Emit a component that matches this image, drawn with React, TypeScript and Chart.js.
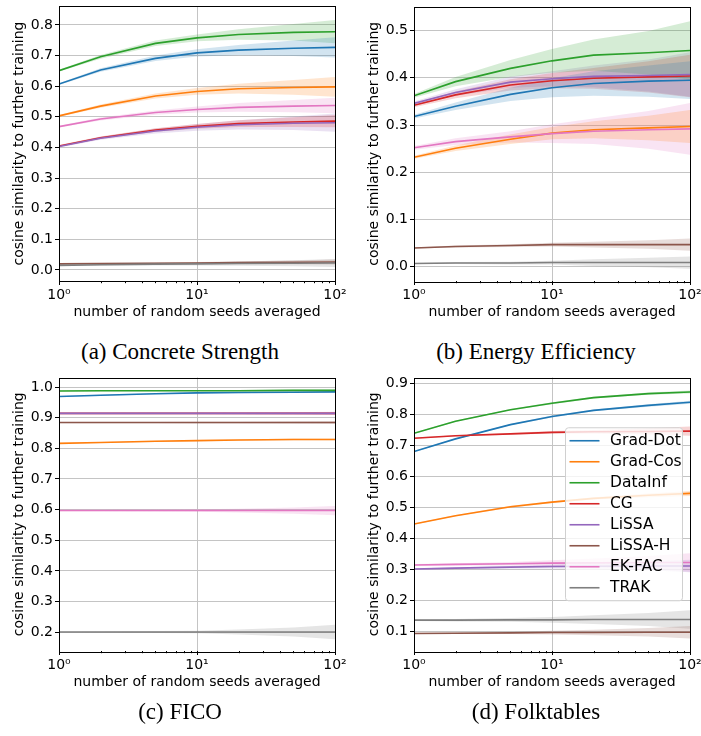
import React, { useEffect, useRef } from "react";
import { Chart, registerables } from "chart.js";
Chart.register(...registerables);

// ---------- data ----------
const seeds = [1, 2, 5, 10, 20, 50, 100];
const methods = ["Grad-Dot", "Grad-Cos", "DataInf", "CG", "LiSSA", "LiSSA-H", "EK-FAC", "TRAK"];
const colors = ["#1f77b4", "#ff7f0e", "#2ca02c", "#d62728", "#9467bd", "#8c564b", "#e377c2", "#7f7f7f"];
const xTickValues = [1, 2, 3, 4, 5, 6, 7, 8, 9, 10, 20, 30, 40, 50, 60, 70, 80, 90, 100];
const xTickLabels: Record<number, string> = { 1: "10⁰", 10: "10¹", 100: "10²" };
const xTitle = "number of random seeds averaged";
const yTitle = "cosine similarity to further training";

// (a) Concrete Strength
const concreteMean = [
  [0.607, 0.653, 0.691, 0.709, 0.718, 0.724, 0.727],
  [0.503, 0.535, 0.568, 0.583, 0.592, 0.596, 0.598],
  [0.651, 0.696, 0.740, 0.758, 0.769, 0.776, 0.778],
  [0.405, 0.432, 0.457, 0.469, 0.478, 0.483, 0.486],
  [0.403, 0.430, 0.454, 0.466, 0.474, 0.479, 0.481],
  [0.020, 0.021, 0.022, 0.023, 0.024, 0.025, 0.026],
  [0.468, 0.493, 0.514, 0.524, 0.531, 0.535, 0.537],
  [0.015, 0.017, 0.019, 0.020, 0.021, 0.022, 0.023],
];
const concreteStd = [
  [0.003, 0.006, 0.009, 0.012, 0.017, 0.025, 0.033],
  [0.003, 0.005, 0.008, 0.011, 0.016, 0.024, 0.032],
  [0.003, 0.006, 0.009, 0.011, 0.017, 0.027, 0.038],
  [0.003, 0.004, 0.006, 0.008, 0.011, 0.016, 0.020],
  [0.003, 0.005, 0.008, 0.011, 0.015, 0.022, 0.030],
  [0.002, 0.002, 0.003, 0.003, 0.004, 0.006, 0.008],
  [0.003, 0.005, 0.007, 0.010, 0.014, 0.020, 0.025],
  [0.002, 0.003, 0.004, 0.005, 0.007, 0.010, 0.013],
];
const concreteTicks = [0.0, 0.1, 0.2, 0.3, 0.4, 0.5, 0.6, 0.7, 0.8];

// (b) Energy Efficiency
const energyMean = [
  [0.318, 0.340, 0.365, 0.379, 0.388, 0.393, 0.395],
  [0.232, 0.251, 0.270, 0.283, 0.290, 0.294, 0.297],
  [0.362, 0.392, 0.420, 0.436, 0.448, 0.453, 0.458],
  [0.342, 0.364, 0.385, 0.394, 0.399, 0.402, 0.404],
  [0.346, 0.369, 0.391, 0.398, 0.403, 0.405, 0.407],
  [0.040, 0.043, 0.045, 0.047, 0.047, 0.047, 0.047],
  [0.252, 0.265, 0.275, 0.282, 0.287, 0.290, 0.292],
  [0.007, 0.008, 0.008, 0.009, 0.009, 0.009, 0.009],
];
const energyStd = [
  [0.004, 0.008, 0.014, 0.020, 0.026, 0.033, 0.040],
  [0.003, 0.006, 0.010, 0.013, 0.018, 0.026, 0.035],
  [0.004, 0.010, 0.018, 0.025, 0.033, 0.046, 0.062],
  [0.004, 0.007, 0.012, 0.016, 0.022, 0.033, 0.045],
  [0.004, 0.007, 0.012, 0.016, 0.023, 0.034, 0.047],
  [0.001, 0.002, 0.003, 0.004, 0.006, 0.009, 0.013],
  [0.004, 0.007, 0.012, 0.020, 0.027, 0.040, 0.055],
  [0.001, 0.002, 0.003, 0.004, 0.007, 0.010, 0.013],
];
const energyTicks = [0.0, 0.1, 0.2, 0.3, 0.4, 0.5];

// (c) FICO
const ficoMean = [
  [0.969, 0.973, 0.978, 0.981, 0.982, 0.983, 0.984],
  [0.816, 0.819, 0.823, 0.825, 0.827, 0.829, 0.829],
  [0.987, 0.988, 0.988, 0.988, 0.988, 0.989, 0.989],
  [0.914, 0.914, 0.914, 0.914, 0.914, 0.914, 0.914],
  [0.914, 0.914, 0.914, 0.914, 0.914, 0.914, 0.914],
  [0.884, 0.884, 0.884, 0.884, 0.884, 0.884, 0.884],
  [0.597, 0.597, 0.597, 0.597, 0.597, 0.597, 0.597],
  [0.201, 0.201, 0.201, 0.201, 0.201, 0.201, 0.201],
];
const ficoStd = [
  [0.002, 0.002, 0.002, 0.002, 0.002, 0.002, 0.002],
  [0.002, 0.002, 0.002, 0.002, 0.002, 0.003, 0.003],
  [0.002, 0.002, 0.002, 0.002, 0.002, 0.003, 0.003],
  [0.001, 0.001, 0.002, 0.002, 0.002, 0.003, 0.004],
  [0.001, 0.001, 0.002, 0.002, 0.003, 0.004, 0.005],
  [0.002, 0.002, 0.002, 0.003, 0.003, 0.004, 0.005],
  [0.002, 0.002, 0.003, 0.004, 0.006, 0.010, 0.015],
  [0.001, 0.002, 0.003, 0.004, 0.008, 0.015, 0.024],
];
const ficoTicks = [0.2, 0.3, 0.4, 0.5, 0.6, 0.7, 0.8, 0.9, 1.0];

// (d) Folktables
const folkMean = [
  [0.681, 0.722, 0.768, 0.794, 0.814, 0.830, 0.840],
  [0.447, 0.474, 0.503, 0.518, 0.530, 0.540, 0.546],
  [0.740, 0.779, 0.816, 0.837, 0.855, 0.868, 0.873],
  [0.724, 0.732, 0.738, 0.743, 0.745, 0.746, 0.747],
  [0.302, 0.305, 0.308, 0.310, 0.311, 0.312, 0.312],
  [0.094, 0.095, 0.096, 0.097, 0.097, 0.098, 0.098],
  [0.315, 0.317, 0.319, 0.321, 0.322, 0.323, 0.323],
  [0.137, 0.137, 0.138, 0.138, 0.139, 0.139, 0.139],
];
const folkStd = [
  [0.002, 0.002, 0.002, 0.003, 0.003, 0.004, 0.005],
  [0.002, 0.002, 0.003, 0.003, 0.004, 0.006, 0.008],
  [0.002, 0.002, 0.002, 0.003, 0.003, 0.004, 0.005],
  [0.002, 0.002, 0.003, 0.004, 0.006, 0.010, 0.015],
  [0.002, 0.003, 0.004, 0.006, 0.009, 0.014, 0.020],
  [0.002, 0.003, 0.004, 0.006, 0.009, 0.014, 0.020],
  [0.003, 0.004, 0.006, 0.009, 0.014, 0.021, 0.030],
  [0.003, 0.004, 0.006, 0.009, 0.014, 0.021, 0.030],
];
const folkTicks = [0.1, 0.2, 0.3, 0.4, 0.5, 0.6, 0.7, 0.8, 0.9];

// ---------- helpers ----------
const FONT = "'DejaVu Sans', sans-serif";
const GRID = "#c4c4c4";

function rgba(hex: string, a: number) {
  const n = parseInt(hex.slice(1), 16);
  return `rgba(${(n >> 16) & 255},${(n >> 8) & 255},${n & 255},${a})`;
}

type PanelProps = {
  left: number;
  top: number;
  width: number;
  height: number;
  padTop: number;
  padRight: number;
  mean: number[][];
  std: number[][];
  yTicks: number[];
  yMin: number;
  yMax: number;
  legend?: boolean;
};

function Panel(p: PanelProps) {
  const ref = useRef<HTMLCanvasElement>(null);
  useEffect(() => {
    const datasets: any[] = [];
    methods.forEach((m, i) => {
      const lowIdx = datasets.length;
      datasets.push({
        label: m + " lower",
        data: seeds.map((s, j) => ({ x: s, y: p.mean[i][j] - p.std[i][j] })),
        borderWidth: 0,
        borderColor: "rgba(0,0,0,0)",
        pointRadius: 0,
        fill: false,
        order: 20,
      });
      datasets.push({
        label: m + " upper",
        data: seeds.map((s, j) => ({ x: s, y: p.mean[i][j] + p.std[i][j] })),
        borderWidth: 0,
        borderColor: "rgba(0,0,0,0)",
        pointRadius: 0,
        fill: { target: lowIdx },
        backgroundColor: rgba(colors[i], 0.2),
        order: 20,
      });
    });
    methods.forEach((m, i) => {
      datasets.push({
        label: m,
        data: seeds.map((s, j) => ({ x: s, y: p.mean[i][j] })),
        borderColor: colors[i],
        borderWidth: 1.6,
        pointRadius: 0,
        fill: false,
        tension: 0,
        order: 8 - i,
      });
    });

    const decor = {
      id: "decor",
      afterDraw(chart: any) {
        const ctx = chart.ctx;
        const a = chart.chartArea;
        const xs = chart.scales.x;
        ctx.save();
        // x ticks (major + minor)
        ctx.strokeStyle = "#000";
        ctx.lineWidth = 1;
        xTickValues.forEach((v) => {
          const px = Math.round(xs.getPixelForValue(v)) + 0.5;
          const len = xTickLabels[v] ? 4 : 2.2;
          ctx.beginPath();
          ctx.moveTo(px, a.bottom);
          ctx.lineTo(px, a.bottom + len);
          ctx.stroke();
        });
        // frame
        ctx.strokeStyle = "#000";
        ctx.lineWidth = 1;
        ctx.strokeRect(Math.round(a.left) + 0.5, Math.round(a.top) + 0.5, Math.round(a.right - a.left), Math.round(a.bottom - a.top));
        // legend
        if (p.legend) {
          const w = 117, rowH = 21, h = 173;
          const bx = a.right - 7.5 - w;
          const by = (a.top + a.bottom) / 2 - h / 2;
          ctx.beginPath();
          const r = 3;
          ctx.moveTo(bx + r, by);
          ctx.lineTo(bx + w - r, by);
          ctx.quadraticCurveTo(bx + w, by, bx + w, by + r);
          ctx.lineTo(bx + w, by + h - r);
          ctx.quadraticCurveTo(bx + w, by + h, bx + w - r, by + h);
          ctx.lineTo(bx + r, by + h);
          ctx.quadraticCurveTo(bx, by + h, bx, by + h - r);
          ctx.lineTo(bx, by + r);
          ctx.quadraticCurveTo(bx, by, bx + r, by);
          ctx.closePath();
          ctx.fillStyle = "rgba(255,255,255,0.8)";
          ctx.fill();
          ctx.strokeStyle = "#d0d0d0";
          ctx.lineWidth = 1;
          ctx.stroke();
          ctx.font = `15.5px ${FONT}`;
          ctx.textBaseline = "middle";
          ctx.textAlign = "left";
          methods.forEach((m, i) => {
            const cy = by + 13 + i * rowH;
            ctx.strokeStyle = colors[i];
            ctx.lineWidth = 1.6;
            ctx.beginPath();
            ctx.moveTo(bx + 4, cy);
            ctx.lineTo(bx + 34, cy);
            ctx.stroke();
            ctx.fillStyle = "#000";
            ctx.fillText(m, bx + 44.5, cy + 0.5);
          });
        }
        ctx.restore();
      },
    };

    const chart = new Chart(ref.current as HTMLCanvasElement, {
      type: "line",
      data: { datasets },
      options: {
        animation: false,
        responsive: false,
        devicePixelRatio: 1,
        layout: { padding: { left: 0, right: p.padRight, top: p.padTop, bottom: 0 } },
        plugins: {
          legend: { display: false },
          tooltip: { enabled: false },
          filler: { drawTime: "beforeDatasetsDraw" },
        } as any,
        scales: {
          x: {
            type: "logarithmic",
            min: 1,
            max: 100,
            afterBuildTicks: (axis: any) => {
              axis.ticks = xTickValues.map((v) => ({ value: v, major: !!xTickLabels[v] }));
            },
            afterFit: (axis: any) => {
              axis.height = 49;
              axis.paddingLeft = 0;
              axis.paddingRight = 0;
            },
            ticks: {
              autoSkip: false,
              maxRotation: 0,
              minRotation: 0,
              padding: 6,
              color: "#000",
              font: { family: FONT, size: 14 },
              callback: (v: any) => xTickLabels[Number(v)] ?? "",
            },
            grid: {
              drawTicks: false,
              lineWidth: 1,
              color: (ctx: any) => (ctx.tick && ctx.tick.value === 10 ? GRID : "rgba(0,0,0,0)"),
            },
            border: { display: false },
            title: {
              display: true,
              text: xTitle,
              color: "#000",
              font: { family: FONT, size: 14 },
              padding: { top: 0, bottom: 9.5 },
            },
          },
          y: {
            type: "linear",
            min: p.yMin,
            max: p.yMax,
            afterBuildTicks: (axis: any) => {
              axis.ticks = p.yTicks.map((v) => ({ value: v }));
            },
            afterFit: (axis: any) => {
              axis.width = 59;
              axis.paddingTop = 0;
              axis.paddingBottom = 0;
            },
            ticks: {
              padding: 2,
              color: "#000",
              font: { family: FONT, size: 14 },
              callback: (v: any) => Number(v).toFixed(1),
            },
            grid: {
              color: GRID,
              lineWidth: 1,
              tickLength: 4,
              tickColor: "#000",
            },
            border: { display: false },
            title: {
              display: true,
              text: yTitle,
              color: "#000",
              font: { family: FONT, size: 14 },
              padding: { top: 11.3, bottom: 0 },
            },
          },
        },
      } as any,
      plugins: [decor],
    });
    return () => chart.destroy();
  }, []);
  return (
    <canvas
      ref={ref}
      width={p.width}
      height={p.height}
      style={{ position: "absolute", left: p.left, top: p.top, width: p.width, height: p.height }}
    />
  );
}

const captionStyle = (left: number, top: number): React.CSSProperties => ({
  position: "absolute",
  left,
  top,
  width: 360,
  height: 26,
  lineHeight: "26px",
  textAlign: "center",
  fontFamily: "'Liberation Serif', 'Times New Roman', serif",
  fontSize: 23,
  color: "#000",
  whiteSpace: "nowrap",
});

export default function App() {
  return (
    <div style={{ position: "absolute", left: 0, top: 0, width: 701, height: 736, background: "#fff", overflow: "hidden" }}>
      <Panel left={0} top={0} width={350} height={330} padTop={6} padRight={15}
        mean={concreteMean} std={concreteStd} yTicks={concreteTicks} yMin={-0.036} yMax={0.862} />
      <Panel left={355} top={0} width={346} height={330} padTop={6.5} padRight={11}
        mean={energyMean} std={energyStd} yTicks={energyTicks} yMin={-0.030} yMax={0.551} />
      <Panel left={0} top={370} width={350} height={330} padTop={7.5} padRight={15}
        mean={ficoMean} std={ficoStd} yTicks={ficoTicks} yMin={0.139} yMax={1.031} />
      <Panel left={355} top={370} width={346} height={330} padTop={7.5} padRight={11}
        mean={folkMean} std={folkStd} yTicks={folkTicks} yMin={0.0375} yMax={0.92} legend />
      <div style={captionStyle(0, 339)}>(a) Concrete Strength</div>
      <div style={captionStyle(356, 339)}>(b) Energy Efficiency</div>
      <div style={captionStyle(0, 699)}>(c) FICO</div>
      <div style={captionStyle(356, 699)}>(d) Folktables</div>
    </div>
  );
}
